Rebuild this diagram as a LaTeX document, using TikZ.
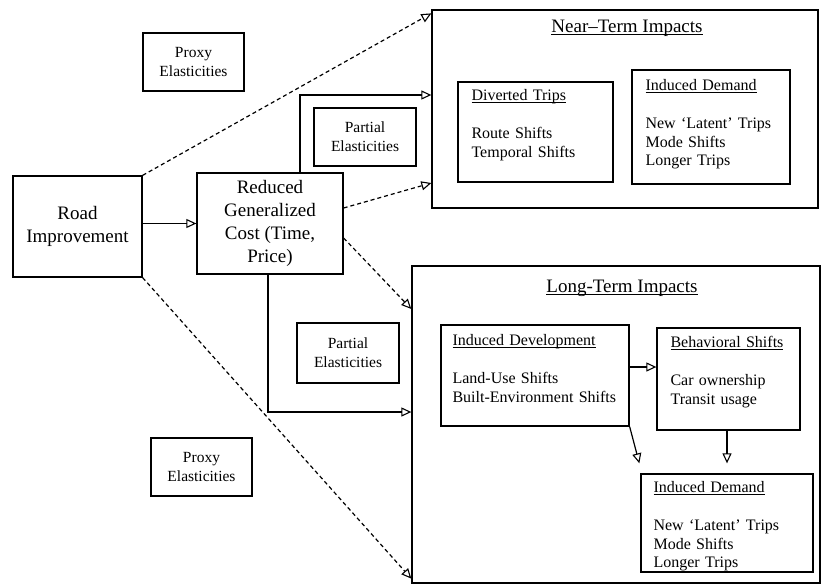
\documentclass[tikz,border=0pt]{standalone}
\usepackage{fontspec}
\setmainfont{Liberation Serif}
\usetikzlibrary{arrows.meta,calc}

% underlined heading at a fixed depth below the baseline
\newsavebox{\headbox}
\newcommand{\undl}[1]{\sbox{\headbox}{#1}\usebox{\headbox}\llap{\rule[-2.5pt]{\wd\headbox}{0.8pt}}}

\begin{document}
\begin{tikzpicture}[x=1pt,y=-1pt,
  box/.style={draw, line width=1.3pt, inner sep=0pt},
  bigtext/.style={font=\fontsize{19}{23}\selectfont, align=center},
  labeltext/.style={font=\fontsize{15.5}{19}\selectfont, align=center},
  listtext/.style={font=\fontsize{16}{18.5}\selectfont, align=left, text width=190pt, inner sep=0pt, anchor=base west},
  titletext/.style={font=\fontsize{19}{23}\selectfont, inner sep=0pt, anchor=base},
  link/.style={line width=1.2pt, -{Triangle[open,length=10pt,width=9pt,line width=1.1pt]}},
  dlink/.style={link, dash pattern=on 4pt off 3pt},
]
\useasboundingbox (0,0) rectangle (821,588);

% left-hand chain
\node[box, bigtext, minimum width=129pt, minimum height=101pt] (road) at (77.5,226.5) {Road\\Improvement};
\node[box, bigtext, minimum width=146pt, minimum height=101pt] (cost) at (270,223.5) {Reduced\\Generalized\\Cost (Time,\\Price)};

% elasticity labels
\node[box, labeltext, minimum width=101pt, minimum height=58pt] (proxyA) at (193.5,62) {Proxy\\Elasticities};
\node[box, labeltext, minimum width=102pt, minimum height=58pt] (partialA) at (365,137) {Partial\\Elasticities};
\node[box, labeltext, minimum width=102pt, minimum height=60pt] (partialB) at (348,353) {Partial\\Elasticities};
\node[box, labeltext, minimum width=101pt, minimum height=58pt] (proxyB) at (201.5,467) {Proxy\\Elasticities};

% near-term impacts
\node[box, minimum width=386pt, minimum height=198pt] (near) at (625,109) {};
\node[titletext] (nearTitle) at ($(near.north)+(2,23)$) {\undl{Near–Term Impacts}};
\node[box, minimum width=155pt, minimum height=100pt] (divert) at (535.5,132) {};
\node[listtext] (divertText) at ($(divert.north west)+(14,19)$) {\undl{Diverted Trips}\\[20pt]Route Shifts\\Temporal Shifts};
\node[box, minimum width=158pt, minimum height=114pt] (demandA) at (711,127) {};
\node[listtext] (demandAText) at ($(demandA.north west)+(14,21)$) {\undl{Induced Demand}\\[20pt]New `Latent' Trips\\Mode Shifts\\Longer Trips};

% long-term impacts
\node[box, minimum width=408pt, minimum height=317pt] (long) at (616,424.5) {};
\node[titletext] (longTitle) at ($(long.north)+(6,27)$) {\undl{Long-Term Impacts}};
\node[box, minimum width=188pt, minimum height=101pt] (develop) at (535,375.5) {};
\node[listtext] (developText) at ($(develop.north west)+(12,21)$) {\undl{Induced Development}\\[20pt]Land-Use Shifts\\Built-Environment Shifts};
\node[box, minimum width=143pt, minimum height=102pt] (behave) at (728.5,379) {};
\node[listtext] (behaveText) at ($(behave.north west)+(14,20)$) {\undl{Behavioral Shifts}\\[20pt]Car ownership\\Transit usage};
\node[box, minimum width=172pt, minimum height=98pt] (demandB) at (727,523) {};
\node[listtext] (demandBText) at ($(demandB.north west)+(13,19)$) {\undl{Induced Demand}\\[20pt]New `Latent' Trips\\Mode Shifts\\Longer Trips};

% solid connectors
\draw[link] (road.east |- cost.west) -- (cost.west);
\draw[link] ($(cost.north)+(30,0)$) |- ($(near.west)+(0,-14)$);
\draw[link] ($(cost.south)+(-2,0)$) |- ($(long.west)+(0,-12.5)$);
\draw[link] ($(develop.east)+(0,-8.5)$) -- ($(behave.west)+(0,-12)$);
\draw[link] (behave.south -| demandB.north) -- ($(demandB.north)+(0,-10)$);
\draw[link] (develop.south east) -- ($(demandB.north west)+(-1,-10)$);

% dashed connectors
\draw[dlink] (road.north east) -- ($(near.north west)+(0,4)$);
\draw[dlink] ($(cost.east)+(0,-15.5)$) -- ($(near.west)+(0,74)$);
\draw[dlink] ($(cost.east)+(0,14.5)$) -- ($(long.west)+(0,-115.5)$);
\draw[dlink] (road.south east) -- ($(long.south west)+(0,-5)$);
\end{tikzpicture}
\end{document}
